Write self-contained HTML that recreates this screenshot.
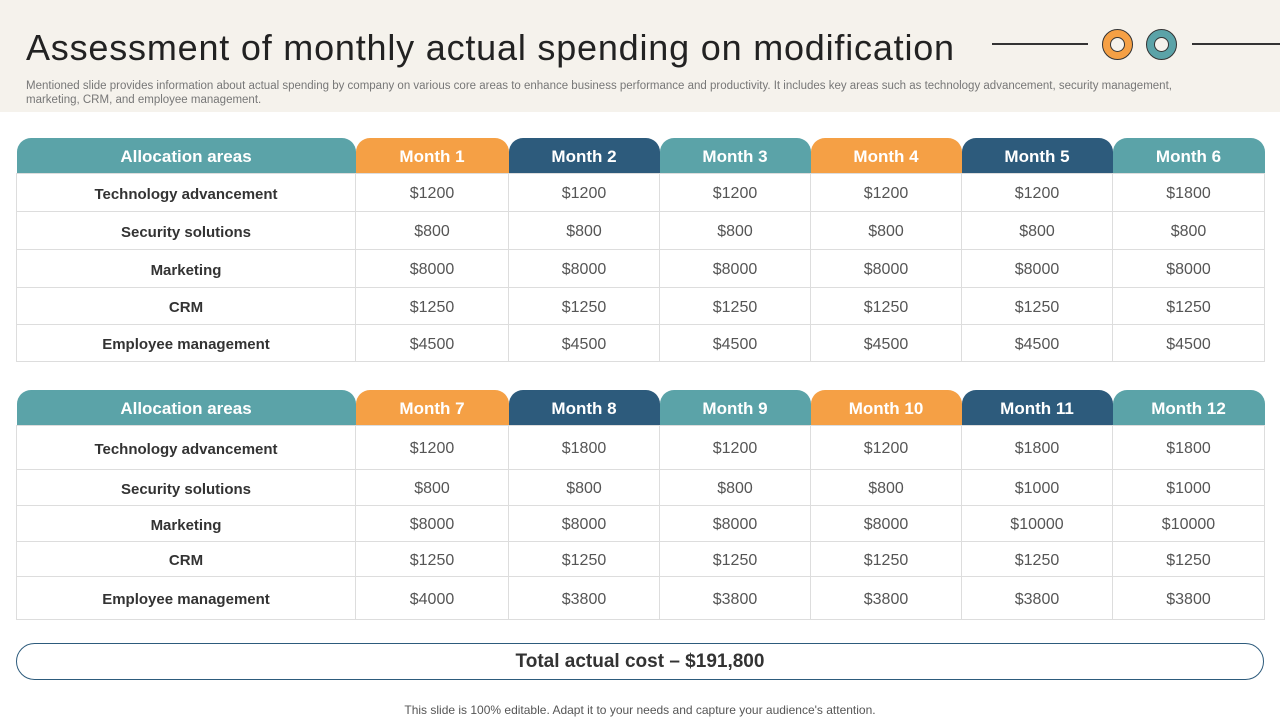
<!DOCTYPE html>
<html><head><meta charset="utf-8"><style>
*{margin:0;padding:0;box-sizing:border-box}
body{width:1280px;height:720px;overflow:hidden;background:#fff;font-family:"Liberation Sans",sans-serif;position:relative}
.hdr{position:absolute;left:0;top:0;width:1280px;height:112px;background:#f5f2ec}
.title{position:absolute;left:26px;top:27px;font-size:36px;color:#222;letter-spacing:0.8px;white-space:nowrap}
.sub{position:absolute;left:26px;top:79px;width:1172px;font-size:11.5px;line-height:14px;color:#777;letter-spacing:0px}
.line{position:absolute;top:43px;height:2px;background:#333}
.ring{position:absolute;top:29px;width:31px;height:31px;border-radius:50%;border:1px solid #333}
.ring::after{content:"";position:absolute;left:7px;top:7px;width:15px;height:15px;border-radius:50%;background:#f5f2ec;border:1px solid #333;box-sizing:border-box}
table{position:absolute;left:16px;width:1248px;border-collapse:collapse;table-layout:fixed}
th{color:#fff;font-size:17px;font-weight:bold;height:35px;border-radius:14px 14px 0 0;padding-top:4px}
td{border:1px solid #ddd;text-align:center;font-size:16px;color:#555;padding-top:4px}
td.l{font-weight:bold;color:#333;font-size:15px}
.t{background:#5ba3a8}.o{background:#f5a045}.n{background:#2d5b7c}
.total{position:absolute;left:16px;top:643px;width:1248px;height:37px;border:1.5px solid #2d5b7c;border-radius:19px;text-align:center;font-size:19px;font-weight:bold;line-height:36px;color:#333}
.foot{position:absolute;left:0;width:1280px;top:703px;text-align:center;font-size:12px;color:#555}
</style></head><body>
<div class="hdr"></div>
<div class="title">Assessment of monthly actual spending on modification</div>
<div class="sub">Mentioned slide provides information about actual spending by company on various core areas to enhance business performance and productivity. It includes key areas such as technology advancement, security management, marketing, CRM, and employee management.</div>
<div class="line" style="left:992px;width:96px"></div>
<div class="ring" style="left:1102px;background:#f5a045"></div>
<div class="ring" style="left:1146px;background:#5ba3a8"></div>
<div class="line" style="left:1192px;width:88px"></div>

<table style="top:138px">
<colgroup><col style="width:339px"><col style="width:153px"><col style="width:151px"><col style="width:151px"><col style="width:151px"><col style="width:151px"><col style="width:152px"></colgroup>
<tr><th class="t">Allocation areas</th><th class="o">Month 1</th><th class="n">Month 2</th><th class="t">Month 3</th><th class="o">Month 4</th><th class="n">Month 5</th><th class="t">Month 6</th></tr>
<tr style="height:38px"><td class="l">Technology advancement</td><td>$1200</td><td>$1200</td><td>$1200</td><td>$1200</td><td>$1200</td><td>$1800</td></tr>
<tr style="height:38px"><td class="l">Security solutions</td><td>$800</td><td>$800</td><td>$800</td><td>$800</td><td>$800</td><td>$800</td></tr>
<tr style="height:38px"><td class="l">Marketing</td><td>$8000</td><td>$8000</td><td>$8000</td><td>$8000</td><td>$8000</td><td>$8000</td></tr>
<tr style="height:37px"><td class="l">CRM</td><td>$1250</td><td>$1250</td><td>$1250</td><td>$1250</td><td>$1250</td><td>$1250</td></tr>
<tr style="height:37px"><td class="l">Employee management</td><td>$4500</td><td>$4500</td><td>$4500</td><td>$4500</td><td>$4500</td><td>$4500</td></tr>
</table>

<table style="top:390px">
<colgroup><col style="width:339px"><col style="width:153px"><col style="width:151px"><col style="width:151px"><col style="width:151px"><col style="width:151px"><col style="width:152px"></colgroup>
<tr><th class="t">Allocation areas</th><th class="o">Month 7</th><th class="n">Month 8</th><th class="t">Month 9</th><th class="o">Month 10</th><th class="n">Month 11</th><th class="t">Month 12</th></tr>
<tr style="height:44px"><td class="l">Technology advancement</td><td>$1200</td><td>$1800</td><td>$1200</td><td>$1200</td><td>$1800</td><td>$1800</td></tr>
<tr style="height:36px"><td class="l">Security solutions</td><td>$800</td><td>$800</td><td>$800</td><td>$800</td><td>$1000</td><td>$1000</td></tr>
<tr style="height:36px"><td class="l">Marketing</td><td>$8000</td><td>$8000</td><td>$8000</td><td>$8000</td><td>$10000</td><td>$10000</td></tr>
<tr style="height:35px"><td class="l">CRM</td><td>$1250</td><td>$1250</td><td>$1250</td><td>$1250</td><td>$1250</td><td>$1250</td></tr>
<tr style="height:43px"><td class="l">Employee management</td><td>$4000</td><td>$3800</td><td>$3800</td><td>$3800</td><td>$3800</td><td>$3800</td></tr>
</table>

<div class="total">Total actual cost – $191,800</div>
<div class="foot">This slide is 100% editable. Adapt it to your needs and capture your audience's attention.</div>
</body></html>
